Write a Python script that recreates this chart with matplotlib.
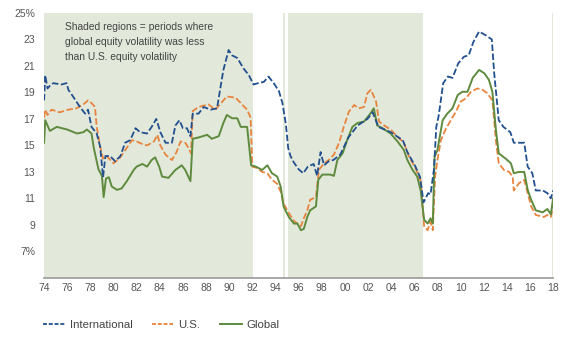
import matplotlib
matplotlib.use("Agg")
import matplotlib.pyplot as plt
from matplotlib.lines import Line2D

# ---------------- data ----------------
intl_years = [1974.0, 1974.1, 1974.3, 1974.5, 1974.8, 1975.5, 1975.95, 1976.1, 1976.5, 1977.1,
              1977.55, 1977.8, 1978.1, 1978.55, 1978.85, 1979.0, 1979.1, 1979.3, 1979.7, 1980.15,
              1980.6, 1981.0, 1981.45, 1981.9, 1982.3, 1982.9, 1983.3, 1983.7, 1984.05, 1984.5,
              1985.05, 1985.35, 1985.7, 1986.0, 1986.35, 1986.65, 1986.85, 1987.35, 1987.8, 1988.4,
              1988.95, 1989.25, 1989.5, 1989.95, 1990.25, 1990.7, 1991.25, 1991.7, 1992.1, 1992.5,
              1993.0, 1993.4, 1993.85, 1994.3, 1994.6, 1994.9, 1995.1, 1995.3, 1995.6, 1996.0,
              1996.4, 1996.8, 1997.3, 1997.6, 1997.9, 1998.2, 1998.6, 1999.0, 1999.6, 2000.3,
              2001.1, 2001.95, 2002.4, 2002.9, 2003.95, 2005.0, 2005.4, 2006.1, 2006.5, 2006.8,
              2007.2, 2007.4, 2007.7, 2007.9, 2008.1, 2008.5, 2008.9, 2009.3, 2009.8, 2010.3,
              2010.7, 2011.1, 2011.6, 2012.2, 2012.7, 2012.9, 2013.3, 2013.7, 2014.3, 2014.6,
              2015.5, 2015.8, 2016.2, 2016.5, 2017.1, 2017.5, 2017.8, 2018.0]
intl_vals = [18.4, 20.3, 19.3, 19.5, 19.7, 19.6, 19.7, 19.2, 18.7, 17.9,
             17.4, 17.7, 16.4, 15.9, 14.9, 13.5, 12.6, 14.2, 14.2, 13.8,
             14.2, 15.2, 15.4, 16.3, 16.0, 15.9, 16.4, 17.0, 16.0, 15.2,
             15.2, 16.5, 16.9, 16.3, 16.3, 15.7, 17.4, 17.4, 17.9, 17.7,
             17.8, 19.4, 20.7, 22.2, 21.8, 21.6, 20.8, 20.3, 19.6, 19.7,
             19.8, 20.2, 19.7, 19.1, 18.2, 16.6, 14.8, 14.2, 13.7, 13.2,
             12.9, 13.4, 13.6, 12.7, 14.5, 13.5, 13.8, 13.9, 14.3, 15.6,
             16.5, 17.0, 17.5, 16.4, 16.0, 15.4, 14.5, 13.4, 12.6, 10.7,
             11.4, 11.3, 13.2, 16.4, 17.2, 19.7, 20.2, 20.1, 21.2, 21.7,
             21.8, 22.8, 23.6, 23.3, 23.0, 20.5, 16.9, 16.4, 16.0, 15.2,
             15.2, 13.4, 12.9, 11.6, 11.6, 11.4, 11.0, 11.6]

us_years = [1974.0, 1974.1, 1974.3, 1974.65, 1975.35, 1976.1, 1976.8, 1977.4, 1977.8, 1978.1,
            1978.4, 1978.55, 1978.85, 1979.1, 1979.4, 1980.0, 1980.5, 1980.9, 1981.6, 1982.0,
            1982.5, 1982.9, 1983.5, 1983.8, 1984.05, 1984.5, 1985.05, 1985.45, 1985.8, 1986.2,
            1986.5, 1986.7, 1986.85, 1987.35, 1988.2, 1988.8, 1989.5, 1989.8, 1990.55, 1991.0,
            1991.55, 1991.85, 1992.0, 1992.4, 1992.85, 1993.3, 1993.7, 1994.15, 1994.45, 1994.7,
            1995.15, 1995.6, 1995.9, 1996.2, 1996.45, 1996.75, 1997.0, 1997.5, 1997.75, 1998.2,
            1998.6, 1999.05, 1999.5, 1999.9, 2000.35, 2000.8, 2001.2, 2001.65, 2001.95, 2002.25,
            2002.7, 2002.95, 2003.4, 2003.95, 2004.55, 2005.1, 2005.55, 2006.1, 2006.55, 2006.85,
            2007.15, 2007.4, 2007.6, 2007.8, 2008.0, 2008.3, 2008.7, 2009.15, 2009.6, 2010.0,
            2010.45, 2010.9, 2011.45, 2011.9, 2012.3, 2012.75, 2013.05, 2013.3, 2013.75, 2014.2,
            2014.5, 2014.6, 2015.05, 2015.5, 2015.8, 2016.1, 2016.5, 2017.2, 2017.5, 2017.8, 2018.0]
us_vals = [17.1, 17.7, 17.3, 17.7, 17.5, 17.7, 17.8, 18.1, 18.4, 18.2,
           17.9, 16.4, 14.9, 14.0, 14.2, 13.65, 14.0, 14.5, 15.4, 15.3,
           15.1, 15.0, 15.3, 15.8, 15.0, 14.3, 13.9, 14.5, 15.3, 15.2,
           14.8, 14.4, 17.6, 17.9, 18.1, 17.7, 18.4, 18.7, 18.6, 18.2,
           17.7, 17.1, 13.4, 13.3, 13.0, 12.9, 12.4, 12.1, 11.5, 10.6,
           9.9, 9.3, 9.1, 8.9, 9.5, 10.1, 10.9, 11.1, 13.15, 13.65,
           13.9, 14.3, 15.2, 16.4, 17.55, 18.05, 17.8, 17.9, 18.95, 19.2,
           18.3, 16.8, 16.5, 16.2, 15.65, 15.2, 14.15, 13.3, 12.3, 8.9,
           8.6, 9.25, 8.6, 12.65, 13.9, 15.4, 16.2, 16.9, 17.55, 18.3,
           18.55, 19.05, 19.3, 19.2, 18.95, 18.4, 15.4, 13.65, 13.15, 13.0,
           12.65, 11.6, 12.15, 12.4, 11.4, 10.4, 9.75, 9.6, 9.75, 9.6, 10.4]

glob_years = [1974.0, 1974.1, 1974.5, 1975.1, 1976.0, 1976.85, 1977.4, 1977.7, 1978.1, 1978.3,
              1978.7, 1979.0, 1979.15, 1979.35, 1979.6, 1979.85, 1980.3, 1980.7, 1981.15, 1981.75,
              1982.0, 1982.5, 1982.9, 1983.3, 1983.6, 1983.95, 1984.2, 1984.75, 1985.35, 1985.9,
              1986.2, 1986.65, 1986.85, 1987.35, 1988.1, 1988.5, 1989.1, 1989.5, 1989.8, 1990.25,
              1990.7, 1991.0, 1991.55, 1991.9, 1992.3, 1992.85, 1993.3, 1993.7, 1994.15, 1994.45,
              1994.7, 1995.15, 1995.6, 1995.9, 1996.2, 1996.45, 1996.75, 1997.0, 1997.5, 1997.7,
              1998.05, 1998.75, 1999.05, 1999.35, 1999.8, 2000.2, 2000.65, 2001.1, 2001.65, 2002.2,
              2002.5, 2002.8, 2003.25, 2003.95, 2004.55, 2005.1, 2005.4, 2005.85, 2006.25, 2006.55,
              2006.85, 2007.15, 2007.4, 2007.6, 2007.75, 2008.0, 2008.45, 2008.85, 2009.3, 2009.75,
              2010.15, 2010.6, 2011.05, 2011.6, 2012.05, 2012.45, 2012.75, 2013.05, 2013.3, 2013.9,
              2014.35, 2014.6, 2015.05, 2015.5, 2015.8, 2016.1, 2016.5, 2017.1, 2017.5, 2017.8, 2018.0]
glob_vals = [15.2, 16.9, 16.1, 16.4, 16.2, 15.9, 16.0, 16.2, 15.9, 14.8,
             13.2, 12.7, 11.1, 12.5, 12.6, 11.9, 11.65, 11.75, 12.3, 13.15,
             13.4, 13.6, 13.4, 13.9, 14.1, 13.4, 12.65, 12.55, 13.15, 13.5,
             13.15, 12.3, 15.5, 15.6, 15.8, 15.5, 15.7, 16.7, 17.3, 17.05,
             17.05, 16.4, 16.4, 13.5, 13.4, 13.15, 13.5, 12.9, 12.65, 11.9,
             10.4, 9.6, 9.1, 9.1, 8.6, 8.7, 9.6, 10.1, 10.4, 12.4,
             12.8, 12.8, 12.7, 13.9, 14.4, 15.4, 16.4, 16.7, 16.8, 17.4,
             17.8, 16.5, 16.3, 15.9, 15.3, 14.65, 13.9, 13.15, 12.65, 11.6,
             9.4, 9.1, 9.5, 9.1, 14.15, 14.65, 16.9, 17.4, 17.8, 18.8,
             19.05, 19.05, 20.1, 20.7, 20.45, 19.95, 19.05, 16.2, 14.4, 14.0,
             13.65, 12.9, 13.0, 13.0, 11.65, 10.9, 10.1, 9.95, 10.2, 9.8, 11.0]

shade_starts = [1974.0, 1994.65, 1995.05, 2017.92]
shade_ends = [1992.05, 1994.85, 2006.72, 2018.0]

x_ticks = list(range(1974, 2019, 2))
x_labels = ["74", "76", "78", "80", "82", "84", "86", "88", "90", "92", "94", "96",
            "98", "00", "02", "04", "06", "08", "10", "12", "14", "16", "18"]
y_ticks = [7, 9, 11, 13, 15, 17, 19, 21, 23, 25]
y_labels = ["7%", "9", "11", "13", "15", "17", "19", "21", "23", "25%"]

series_names = ["International", "U.S.", "Global"]

# ---------------- style ----------------
plt.rcParams['font.family'] = ['Liberation Sans', 'DejaVu Sans']
c_intl = "#22508f"
c_us = "#e8843e"
c_glob = "#5e8b3e"
c_shade = "#e2e8da"
c_text = "#555555"

fig = plt.figure(figsize=(5.65, 3.5), dpi=100)
ax = fig.add_axes([0.078, 0.206, 0.901, 0.757])

for s, e in zip(shade_starts, shade_ends):
    ax.axvspan(s, e, color=c_shade, lw=0, zorder=0)

dash = (3.6, 1.4)
ax.plot(intl_years, intl_vals, color=c_intl, lw=1.3, dashes=dash, zorder=3)
ax.plot(us_years, us_vals, color=c_us, lw=1.3, dashes=dash, zorder=2)
ax.plot(glob_years, glob_vals, color=c_glob, lw=1.4, zorder=2.5)

ax.set_xlim(1974, 2018)
ax.set_ylim(5, 25)
ax.set_xticks(x_ticks)
ax.set_xticklabels(x_labels)
ax.set_yticks(y_ticks)
ax.set_yticklabels(y_labels)
ax.tick_params(axis='both', length=0, labelsize=7.5, colors=c_text)
ax.tick_params(axis='x', pad=4)
ax.tick_params(axis='y', pad=6.5)
for sp in ["top", "right", "left"]:
    ax.spines[sp].set_visible(False)
ax.spines["bottom"].set_color("#9a9a9a")
ax.spines["bottom"].set_linewidth(1.2)

ax.text(1975.8, 24.3, "Shaded regions = periods where\nglobal equity volatility was less\nthan U.S. equity volatility",
        ha="left", va="top", fontsize=7.4, color="#444444", linespacing=1.6)

handles = [Line2D([], [], color=c_intl, lw=1.3, dashes=(2.2, 1.0)),
           Line2D([], [], color=c_us, lw=1.3, dashes=(2.2, 1.0)),
           Line2D([], [], color=c_glob, lw=1.4)]
fig.legend(handles, series_names, loc="center left", bbox_to_anchor=(0.076, 0.071),
           ncol=3, frameon=False, fontsize=8.2, handlelength=1.9, columnspacing=1.7,
           handletextpad=0.45, borderpad=0, borderaxespad=0, labelcolor="#444444")

fig.savefig("out.png", dpi=100)
